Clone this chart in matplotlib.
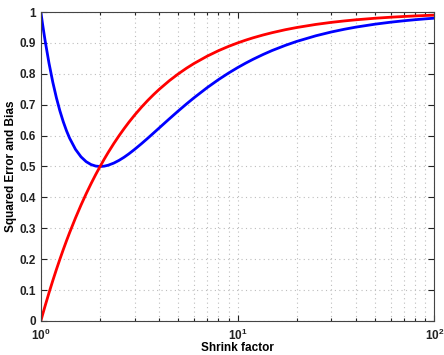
import matplotlib
matplotlib.use("Agg")
import matplotlib.pyplot as plt

# values
shrink = [1, 1.02, 1.05, 1.1, 1.15, 1.2, 1.25, 1.3, 1.35, 1.4, 1.5, 1.6, 1.7,
          1.8, 1.9, 2, 2.1, 2.2, 2.35, 2.5, 2.65, 2.8, 3, 3.25, 3.5, 3.75, 4,
          4.5, 5, 5.5, 6, 7, 8, 9, 10, 11, 12, 13.5, 15, 17.5, 20, 25, 30, 35,
          40, 50, 60, 70, 80, 90, 100]
bias = [0, 0.0196, 0.0476, 0.0909, 0.1304, 0.1667, 0.2, 0.2308, 0.2593, 0.2857,
        0.3333, 0.375, 0.4118, 0.4444, 0.4737, 0.5, 0.5238, 0.5455, 0.5745, 0.6,
        0.6226, 0.6429, 0.6667, 0.6923, 0.7143, 0.7333, 0.75, 0.7778, 0.8,
        0.8182, 0.8333, 0.8571, 0.875, 0.8889, 0.9, 0.9091, 0.9167, 0.9259,
        0.9333, 0.9429, 0.95, 0.96, 0.9667, 0.9714, 0.975, 0.98, 0.9833,
        0.9857, 0.9875, 0.9889, 0.99]
sq_error = [1, 0.9616, 0.9093, 0.8347, 0.7731, 0.7222, 0.68, 0.645, 0.6159,
            0.5918, 0.5556, 0.5313, 0.5156, 0.5062, 0.5014, 0.5, 0.5011, 0.5041,
            0.5111, 0.52, 0.53, 0.5408, 0.5556, 0.574, 0.5918, 0.6089, 0.625,
            0.6543, 0.68, 0.7025, 0.7222, 0.7551, 0.7813, 0.8025, 0.82, 0.8347,
            0.8472, 0.8628, 0.8756, 0.8922, 0.905, 0.9232, 0.9356, 0.9445,
            0.9513, 0.9608, 0.9672, 0.9718, 0.9753, 0.978, 0.9802]
yticks = [0, 0.1, 0.2, 0.3, 0.4, 0.5, 0.6, 0.7, 0.8, 0.9, 1]
ytick_labels = ["0", "0.1", "0.2", "0.3", "0.4", "0.5", "0.6", "0.7", "0.8", "0.9", "1"]

plt.rcParams["font.family"] = ["Liberation Sans", "DejaVu Sans"]
plt.rcParams["font.weight"] = "bold"
plt.rcParams["mathtext.fontset"] = "custom"
plt.rcParams["mathtext.rm"] = "Liberation Sans:bold"
plt.rcParams["mathtext.bf"] = "Liberation Sans:bold"
plt.rcParams["mathtext.default"] = "bf"

fig = plt.figure(figsize=(4.44, 3.55), dpi=100, facecolor="white")
ax = fig.add_axes([0.092, 0.096, 0.886, 0.870])

ax.plot(shrink, sq_error, color="#0000ff", lw=2)
ax.plot(shrink, bias, color="#ff0000", lw=2)

ax.set_xscale("log")
ax.set_xlim(1, 100)
ax.set_ylim(0, 1)
ax.set_yticks(yticks)
ax.set_yticklabels(ytick_labels)

grid_kw = dict(ls=(0, (1, 3)), color="#bdbdbd", lw=0.8)
ax.grid(True, which="major", **grid_kw)
ax.grid(True, which="minor", axis="x", **grid_kw)
ax.tick_params(which="both", direction="in", top=True, right=True,
               labelsize=8.5, colors="#222222", width=0.8)
ax.tick_params(which="major", length=4)
ax.tick_params(which="minor", length=2)
ax.tick_params(axis="x", pad=5)
for s in ax.spines.values():
    s.set_color("#444444")
    s.set_linewidth(0.8)

ax.set_xlabel("Shrink factor", fontsize=8.5, fontweight="bold", labelpad=-1)
ax.set_ylabel("Squared Error and Bias", fontsize=8.5, fontweight="bold", labelpad=2)

fig.savefig("out.png", dpi=100)
